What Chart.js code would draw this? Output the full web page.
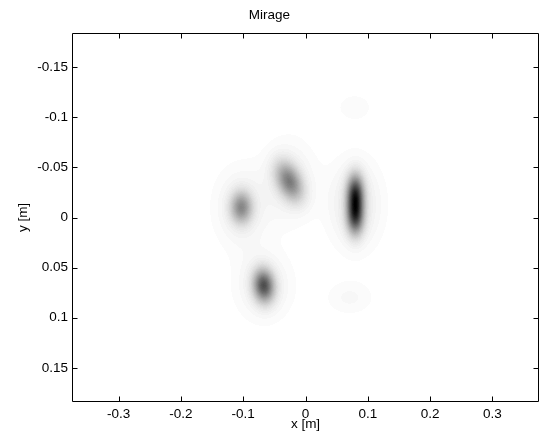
<!DOCTYPE html>
<html>
<head>
<meta charset="utf-8">
<script src="https://cdn.jsdelivr.net/npm/chart.js@4.4.1/dist/chart.umd.min.js"></script>
<style>
  html, body { margin: 0; padding: 0; background: #ffffff; }
  #c { display: block; }
</style>
</head>
<body>
<canvas id="c" width="540" height="440"></canvas>
<script>
// ---- data ----
const chartTitle = 'Mirage';
const xTicks = [-0.3, -0.2, -0.1, 0, 0.1, 0.2, 0.3];
const yTicks = [-0.15, -0.1, -0.05, 0, 0.05, 0.1, 0.15];
const xRange = [-0.375, 0.375];
const yRange = [-0.184, 0.184];

// blob sources (metres): A, B, C-upper, C-lower, D, faint E, faint F
const blobX      = [-0.103, -0.026, 0.080, 0.080, -0.067, 0.071, 0.079];
const blobY      = [-0.010, -0.036, -0.024, -0.002, 0.068, 0.080, -0.110];
const blobPeak   = [0.52, 0.58, 0.86, 0.86, 0.80, 0.045, 0.030];
const blobSigU   = [0.0115, 0.016, 0.0090, 0.0090, 0.0115, 0.027, 0.025];
const blobSigV   = [0.0105, 0.0105, 0.0125, 0.0125, 0.0105, 0.012, 0.012];
const blobAngle  = [0, 35, 0, 0, 35, 0, 0];
const haloPeak   = [0.09, 0.09, 0.065, 0.065, 0.09, 0, 0];
const haloSigX   = [0.029, 0.028, 0.028, 0.028, 0.030, 1, 1];
const haloSigY   = [0.027, 0.027, 0.027, 0.027, 0.023, 1, 1];
const colorLevels = 64;

// ---- field plugin: paints the intensity image through the chart scales ----
function fieldValue(x, y) {
  let v = 0;
  for (let i = 0; i < blobX.length; i++) {
    const dx = x - blobX[i], dy = y - blobY[i];
    const a = blobAngle[i] * Math.PI / 180;
    const u = dx * Math.cos(a) + dy * Math.sin(a);
    const w = -dx * Math.sin(a) + dy * Math.cos(a);
    v += blobPeak[i] * Math.exp(-(u * u) / (2 * blobSigU[i] * blobSigU[i]) - (w * w) / (2 * blobSigV[i] * blobSigV[i]));
    if (haloPeak[i] > 0) {
      v += haloPeak[i] * Math.exp(-(dx * dx) / (2 * haloSigX[i] * haloSigX[i]) - (dy * dy) / (2 * haloSigY[i] * haloSigY[i]));
    }
  }
  return v;
}

const fieldPlugin = {
  id: 'field',
  beforeDatasetsDraw(chart) {
    const { ctx, chartArea: ca, scales } = chart;
    const x0 = Math.round(ca.left), y0 = Math.round(ca.top);
    const w = Math.round(ca.right) - x0, h = Math.round(ca.bottom) - y0;
    const off = document.createElement('canvas');
    off.width = w; off.height = h;
    const octx = off.getContext('2d');
    const img = octx.createImageData(w, h);
    const xs = [], ys = [];
    for (let i = 0; i < w; i++) xs.push(scales.x.getValueForPixel(x0 + i + 0.5));
    for (let j = 0; j < h; j++) ys.push(scales.y.getValueForPixel(y0 + j + 0.5));
    let maxV = 0;
    const vals = new Float32Array(w * h);
    for (let j = 0; j < h; j++) for (let i = 0; i < w; i++) {
      const v = fieldValue(xs[i], ys[j]);
      vals[j * w + i] = v;
      if (v > maxV) maxV = v;
    }
    for (let k = 0; k < w * h; k++) {
      let idx = Math.floor(vals[k] / maxV * colorLevels);
      if (idx > colorLevels - 1) idx = colorLevels - 1;
      const g = Math.round(255 * (1 - idx / (colorLevels - 1)));
      img.data[k * 4] = g; img.data[k * 4 + 1] = g; img.data[k * 4 + 2] = g; img.data[k * 4 + 3] = 255;
    }
    octx.putImageData(img, 0, 0);
    ctx.drawImage(off, x0, y0);
  }
};

// ---- MATLAB-like box with inward ticks ----
const boxPlugin = {
  id: 'box',
  afterDraw(chart) {
    const { ctx, chartArea: ca, scales } = chart;
    const L = Math.round(ca.left) + 0.5, R = Math.round(ca.right) - 0.5;
    const T = Math.round(ca.top) + 0.5, B = Math.round(ca.bottom) - 0.5;
    const tl = 5;
    ctx.save();
    ctx.strokeStyle = '#000';
    ctx.lineWidth = 1;
    ctx.beginPath();
    ctx.rect(L, T, R - L, B - T);
    xTicks.forEach(v => {
      const p = Math.round(scales.x.getPixelForValue(v)) + 0.5;
      ctx.moveTo(p, B); ctx.lineTo(p, B - tl);
      ctx.moveTo(p, T); ctx.lineTo(p, T + tl);
    });
    yTicks.forEach(v => {
      const p = Math.round(scales.y.getPixelForValue(v)) + 0.5;
      ctx.moveTo(L, p); ctx.lineTo(L + tl, p);
      ctx.moveTo(R, p); ctx.lineTo(R - tl, p);
    });
    ctx.stroke();
    ctx.restore();
  }
};

const bgPlugin = {
  id: 'bg',
  beforeDraw(chart) {
    const { ctx, width, height } = chart;
    ctx.save(); ctx.fillStyle = '#fff'; ctx.fillRect(0, 0, width, height); ctx.restore();
  }
};

const fontFam = '"Liberation Sans", Arial, Helvetica, sans-serif';
const fontSize = 13.5;
const fmt = v => String(+Number(v).toFixed(3));

new Chart(document.getElementById('c'), {
  type: 'scatter',
  data: {
    datasets: [{
      label: 'sources',
      data: blobX.map((x, i) => ({ x: x, y: blobY[i] })),
      pointRadius: 0,
      showLine: false
    }]
  },
  options: {
    responsive: false,
    animation: false,
    events: [],
    layout: { padding: { left: 0, right: 1, top: 0, bottom: 0 } },
    plugins: {
      legend: { display: false },
      tooltip: { enabled: false },
      title: {
        display: true, text: chartTitle, color: '#000',
        font: { family: fontFam, size: fontSize, weight: 'normal', lineHeight: 1.2 },
        padding: { top: 7, bottom: 9.8 }
      }
    },
    scales: {
      x: {
        type: 'linear', position: 'bottom', min: xRange[0], max: xRange[1],
        afterBuildTicks: s => { s.ticks = xTicks.map(v => ({ value: v })); },
        afterFit: s => { s.height = 38; },
        grid: { display: false, drawTicks: false },
        border: { display: false },
        ticks: { autoSkip: false, maxRotation: 0, padding: 4, color: '#000',
                 font: { family: fontFam, size: fontSize }, callback: v => fmt(v) },
        title: { display: true, text: 'x [m]', color: '#000',
                 font: { family: fontFam, size: fontSize, lineHeight: 1.2 }, padding: { top: 8, bottom: 8 } }
      },
      y: {
        type: 'linear', position: 'left', reverse: true, min: yRange[0], max: yRange[1],
        afterBuildTicks: s => { s.ticks = yTicks.map(v => ({ value: v })); },
        afterFit: s => { s.width = 72; },
        grid: { display: false, drawTicks: false },
        border: { display: false },
        ticks: { autoSkip: false, padding: 4, color: '#000',
                 font: { family: fontFam, size: fontSize }, callback: v => fmt(v) },
        title: { display: true, text: 'y [m]', color: '#000',
                 font: { family: fontFam, size: fontSize, lineHeight: 1.2 }, padding: { top: 15, bottom: 15 } }
      }
    }
  },
  plugins: [bgPlugin, fieldPlugin, boxPlugin]
});
</script>
</body>
</html>
